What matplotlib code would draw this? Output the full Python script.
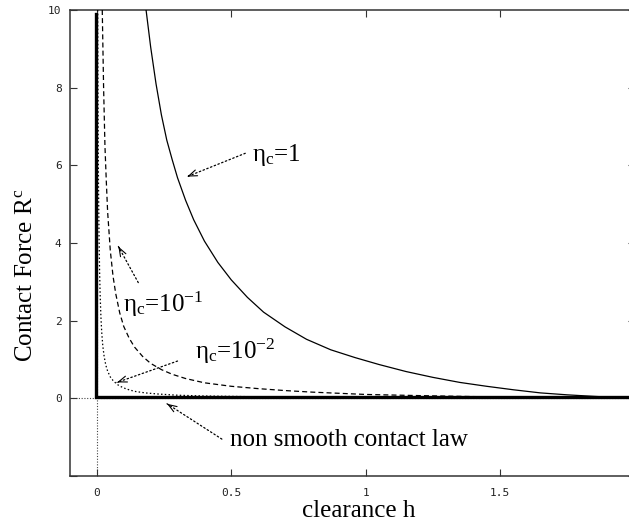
import numpy as np
import matplotlib
matplotlib.use("Agg")
import matplotlib.pyplot as plt

plt.rcParams['mathtext.fontset'] = 'custom'
plt.rcParams['mathtext.rm'] = 'Liberation Serif'
plt.rcParams['mathtext.it'] = 'Liberation Serif:italic'

# ---- data ----
h_eta1 = [0.183, 0.20, 0.22, 0.24, 0.26, 0.28, 0.30, 0.33, 0.36, 0.40, 0.45, 0.50, 0.56,
          0.62, 0.70, 0.78, 0.87, 0.96, 1.05, 1.15, 1.25, 1.35, 1.45, 1.55, 1.65, 1.75,
          1.85, 1.95, 2.0]
R_eta1 = [10.0, 9.05, 8.1, 7.3, 6.65, 6.15, 5.68, 5.1, 4.6, 4.05, 3.5, 3.05, 2.6,
          2.22, 1.84, 1.52, 1.25, 1.05, 0.87, 0.69, 0.54, 0.41, 0.31, 0.22, 0.14, 0.09,
          0.05, 0.015, 0.0]

h_eta01 = [0.02, 0.025, 0.03, 0.035, 0.04, 0.05, 0.06, 0.07, 0.085, 0.1, 0.12, 0.14, 0.17,
           0.2, 0.24, 0.28, 0.33, 0.4, 0.5, 0.6, 0.7, 0.8, 0.9, 1.0, 1.2, 1.4, 1.6, 1.8, 2.0]
R_eta01 = [10.0, 8.0, 6.5, 5.6, 4.8, 3.8, 3.15, 2.7, 2.2, 1.85, 1.55, 1.32, 1.08,
           0.9, 0.74, 0.62, 0.51, 0.40, 0.31, 0.25, 0.20, 0.16, 0.13, 0.10, 0.07, 0.045,
           0.025, 0.01, 0.0]

h_eta001 = [0.003, 0.004, 0.005, 0.006, 0.008, 0.01, 0.012, 0.015, 0.018, 0.022, 0.027,
            0.033, 0.04, 0.05, 0.06, 0.075, 0.09, 0.11, 0.14, 0.18, 0.23, 0.3, 0.4, 0.55,
            0.75, 1.0, 1.3, 1.6, 2.0]
R_eta001 = [10.0, 8.0, 6.5, 5.5, 4.2, 3.3, 2.7, 2.1, 1.7, 1.35, 1.08,
            0.86, 0.70, 0.55, 0.46, 0.36, 0.30, 0.24, 0.18, 0.14, 0.11, 0.08, 0.06, 0.045,
            0.03, 0.02, 0.012, 0.006, 0.0]

h_law = [-0.004, -0.004, 2.0]
R_law = [9.9, 0.04, 0.04]

x_ticks = [0, 0.5, 1, 1.5, 2]
x_ticklabels = ['0', '0.5', '1', '1.5', '']
y_ticks = [-2, 0, 2, 4, 6, 8, 10]
y_ticklabels = ['', '0', '2', '4', '6', '8', '10']

label_eta1 = 'η$_\\mathrm{c}$=1'
label_eta01 = 'η$_\\mathrm{c}$=10$^{\\mathrm{-1}}$'
label_eta001 = 'η$_\\mathrm{c}$=10$^{\\mathrm{-2}}$'
label_law = 'non smooth contact law'

# ---- figure ----
W, H, DPI = 629, 525, 100
fig = plt.figure(figsize=(W / DPI, H / DPI), dpi=DPI)
ax = fig.add_axes([70 / W, 49 / H, 564.5 / W, 466 / H])
ax.set_xlim(-0.1, 2.0)
ax.set_ylim(-2, 10)

# zero axes
ax.axhline(0, color='#444444', lw=0.8, ls=(0, (1, 1.5)), zorder=1)
ax.axvline(0, color='#444444', lw=0.8, ls=(0, (1, 1.5)), zorder=1)

ax.plot(h_eta1, R_eta1, color='k', lw=0.9, zorder=3)
ax.plot(h_eta01, R_eta01, color='k', lw=0.9, ls=(0, (4, 2.5)), zorder=3)
ax.plot(h_eta001, R_eta001, color='k', lw=0.9, ls=(0, (1.2, 1.8)), zorder=3)
ax.plot(h_law, R_law, color='k', lw=2.4, zorder=4, solid_joinstyle='miter')

# ticks
ax.set_xticks(x_ticks)
ax.set_xticklabels(x_ticklabels)
ax.set_yticks(y_ticks)
ax.set_yticklabels(y_ticklabels)
ax.tick_params(direction='in', length=5, width=0.8, top=True, right=True,
               color='#333333', labelcolor='#222222', labelsize=8)
ax.tick_params(axis='x', pad=9)
ax.tick_params(axis='y', pad=6)
for lab in ax.get_xticklabels() + ax.get_yticklabels():
    lab.set_fontfamily('DejaVu Sans Mono')
for s in ax.spines.values():
    s.set_color('#333333')
    s.set_linewidth(1.1)

# axis labels
ax.set_xlabel('clearance h', family='Liberation Serif', fontsize=18)
ax.xaxis.set_label_coords(0.512, -0.088)
ax.xaxis.label.set_va('baseline')
ax.set_ylabel('Contact Force R$^\\mathrm{c}$', family='Liberation Serif', fontsize=18)
ax.yaxis.set_label_coords(-0.058, 0.43)

# annotations
fig.canvas.draw()


def arrow(tail, head):
    ax.annotate('', xy=head, xytext=tail,
                arrowprops=dict(arrowstyle='-', lw=0.9, ls=(0, (1.2, 2.0)), color='k',
                                shrinkA=0, shrinkB=0))
    p1 = ax.transData.transform(tail)
    p2 = ax.transData.transform(head)
    d = (p1 - p2) / np.hypot(*(p1 - p2)) * 2.0 * 72 / DPI
    ax.annotate('', xy=head, xytext=(d[0], d[1]), textcoords='offset points',
                arrowprops=dict(arrowstyle='->,head_length=0.6,head_width=0.22', lw=0.8,
                                color='k', shrinkA=0, shrinkB=0, mutation_scale=10))


tfont = dict(family='Liberation Serif', fontsize=18, color='k')
ax.text(0.577, 6.1, label_eta1, va='baseline', ha='left', **tfont)
arrow((0.552, 6.31), (0.336, 5.71))

ax.text(0.099, 2.22, label_eta01, va='baseline', ha='left', **tfont)
arrow((0.154, 2.98), (0.080, 3.91))

ax.text(0.366, 1.02, label_eta001, va='baseline', ha='left', **tfont)
arrow((0.30, 0.96), (0.075, 0.41))

ax.text(0.496, -1.24, label_law, va='baseline', ha='left', **tfont)
arrow((0.465, -1.05), (0.261, -0.14))

fig.savefig('out.png', dpi=DPI)
